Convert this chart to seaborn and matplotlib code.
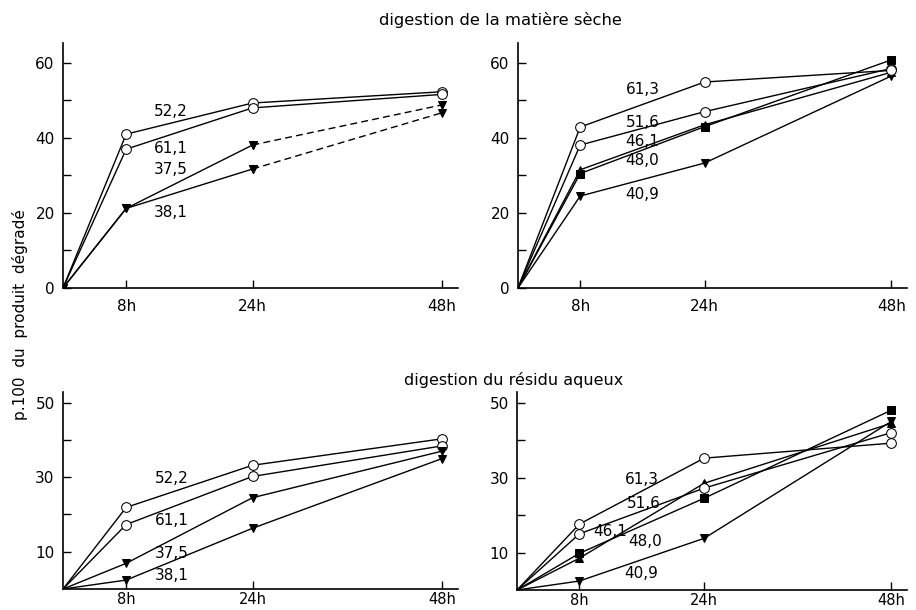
import matplotlib
matplotlib.use("Agg")
import matplotlib.pyplot as plt
import seaborn as sns

# temps de digestion (h)
hours = [0, 8, 24, 48]
hour_labels = ["8h", "24h", "48h"]

# digestion de la matiere seche
ms_left_522 = [0, 41.0, 49.3, 52.3]
ms_left_611 = [0, 37.0, 48.0, 51.6]
ms_left_375 = [0, 21.2, 38.1, 48.8]
ms_left_381 = [0, 21.2, 31.7, 46.7]
ms_right_613 = [0, 42.9, 54.9, 58.0]
ms_right_516 = [0, 38.1, 47.0, 58.5]
ms_right_461 = [0, 31.5, 43.5, 57.5]
ms_right_480 = [0, 30.5, 43.0, 60.8]
ms_right_409 = [0, 24.5, 33.3, 56.5]

# digestion du residu aqueux
ra_left_522 = [0, 21.9, 33.2, 40.3]
ra_left_611 = [0, 17.3, 30.2, 38.4]
ra_left_375 = [0, 6.9, 24.5, 37.0]
ra_left_381 = [0, 2.4, 16.3, 35.0]
ra_right_613 = [0, 17.6, 35.2, 39.2]
ra_right_516 = [0, 15.0, 27.2, 42.0]
ra_right_461 = [0, 8.5, 28.5, 44.5]
ra_right_480 = [0, 9.8, 24.5, 48.0]
ra_right_409 = [0, 2.4, 13.8, 45.0]

labels_left = ["52,2", "61,1", "37,5", "38,1"]
labels_right = ["61,3", "51,6", "46,1", "48,0", "40,9"]

sns.set_style("ticks")
plt.rcParams["font.family"] = ["DejaVu Sans"]
plt.rcParams["text.color"] = "black"
plt.rcParams["xtick.color"] = "black"
plt.rcParams["ytick.color"] = "black"

fig = plt.figure(figsize=(9.16, 6.10), dpi=100)
ax_tl = fig.add_axes([0.0688, 0.528, 0.431, 0.4015])
ax_tr = fig.add_axes([0.5655, 0.528, 0.4245, 0.4015])
ax_bl = fig.add_axes([0.0688, 0.0344, 0.431, 0.3226])
ax_br = fig.add_axes([0.5645, 0.0328, 0.4255, 0.3242])

open_c = dict(marker="o", markerfacecolor="white", markeredgecolor="black", markersize=7)
down_t = dict(marker="v", markerfacecolor="black", markeredgecolor="black", markersize=6)
up_t = dict(marker="^", markerfacecolor="black", markeredgecolor="black", markersize=6)
sq = dict(marker="s", markerfacecolor="black", markeredgecolor="black", markersize=6)


def trace(ax, y, mk, dashed_end=False):
    if dashed_end:
        sns.lineplot(x=hours[:3], y=y[:3], ax=ax, color="black", linewidth=1, **mk)
        sns.lineplot(x=hours[2:], y=y[2:], ax=ax, color="black", linewidth=1,
                     linestyle=(0, (5, 3)), **mk)
    else:
        sns.lineplot(x=hours, y=y, ax=ax, color="black", linewidth=1, **mk)
    # pas de marqueur a l'origine
    xs = ax.lines[-1].get_xdata()
    ax.lines[-1].set_markevery([i for i in range(len(xs)) if xs[i] > 0])


trace(ax_tl, ms_left_522, open_c)
trace(ax_tl, ms_left_611, open_c)
trace(ax_tl, ms_left_375, down_t, dashed_end=True)
trace(ax_tl, ms_left_381, down_t, dashed_end=True)

trace(ax_tr, ms_right_409, down_t)
trace(ax_tr, ms_right_480, sq)
trace(ax_tr, ms_right_461, up_t)
trace(ax_tr, ms_right_516, open_c)
trace(ax_tr, ms_right_613, open_c)

trace(ax_bl, ra_left_522, open_c)
trace(ax_bl, ra_left_611, open_c)
trace(ax_bl, ra_left_375, down_t)
trace(ax_bl, ra_left_381, down_t)

trace(ax_br, ra_right_409, down_t)
trace(ax_br, ra_right_480, sq)
trace(ax_br, ra_right_461, up_t)
trace(ax_br, ra_right_516, open_c)
trace(ax_br, ra_right_613, open_c)

# etiquettes des courbes
fs = 11
for lab, yy in zip(labels_left, [47, 37.3, 31.7, 20]):
    ax_tl.text(13.7, yy, lab, ha="center", va="center", fontsize=fs)
for lab, xx, yy in zip(labels_right, [16, 16, 16, 16, 16], [53, 44, 39, 34, 25]):
    ax_tr.text(xx, yy, lab, ha="center", va="center", fontsize=fs)
for lab, yy in zip(labels_left, [29.6, 18.4, 9.6, 3.7]):
    ax_bl.text(13.8, yy, lab, ha="center", va="center", fontsize=fs)
for lab, xx, yy in zip(labels_right, [16, 16.2, 12.0, 16.4, 15.9], [29.6, 23, 15.6, 13.0, 4.5]):
    ax_br.text(xx, yy, lab, ha="center", va="center", fontsize=fs)

for ax in (ax_tl, ax_tr):
    ax.set_ylim(0, 65.3)
    ax.set_yticks([0, 20, 40, 60])
    ax.set_yticks([10, 30, 50], minor=True)
for ax in (ax_bl, ax_br):
    ax.set_ylim(0, 52.8)
    ax.set_yticks([10, 30, 50])
    ax.set_yticks([20, 40], minor=True)

for ax in (ax_tl, ax_tr, ax_bl, ax_br):
    ax.set_xlim(0, 50)
    ax.set_xticks(hours[1:])
    ax.set_xticklabels(hour_labels)
    ax.set_xlabel("")
    ax.set_ylabel("")
    sns.despine(ax=ax)
    ax.tick_params(which="both", direction="in", length=6, width=1, labelsize=11, pad=6)
    for s in ("left", "bottom"):
        ax.spines[s].set_linewidth(1.2)
        ax.spines[s].set_color("black")
for ax in (ax_tl, ax_tr):
    ax.tick_params(axis="x", pad=8)
for ax in (ax_bl, ax_br):
    ax.tick_params(axis="x", pad=2, labelsize=10.5)

fig.text(0.546, 0.968, "digestion de la matière sèche", ha="center", va="center", fontsize=11.8)
fig.text(0.561, 0.377, "digestion du résidu aqueux", ha="center", va="center", fontsize=11.5)
fig.text(0.022, 0.485, "p.100  du  produit  dégradé", rotation=90, ha="center", va="center",
         fontsize=11)

fig.savefig("out.png", dpi=100)
